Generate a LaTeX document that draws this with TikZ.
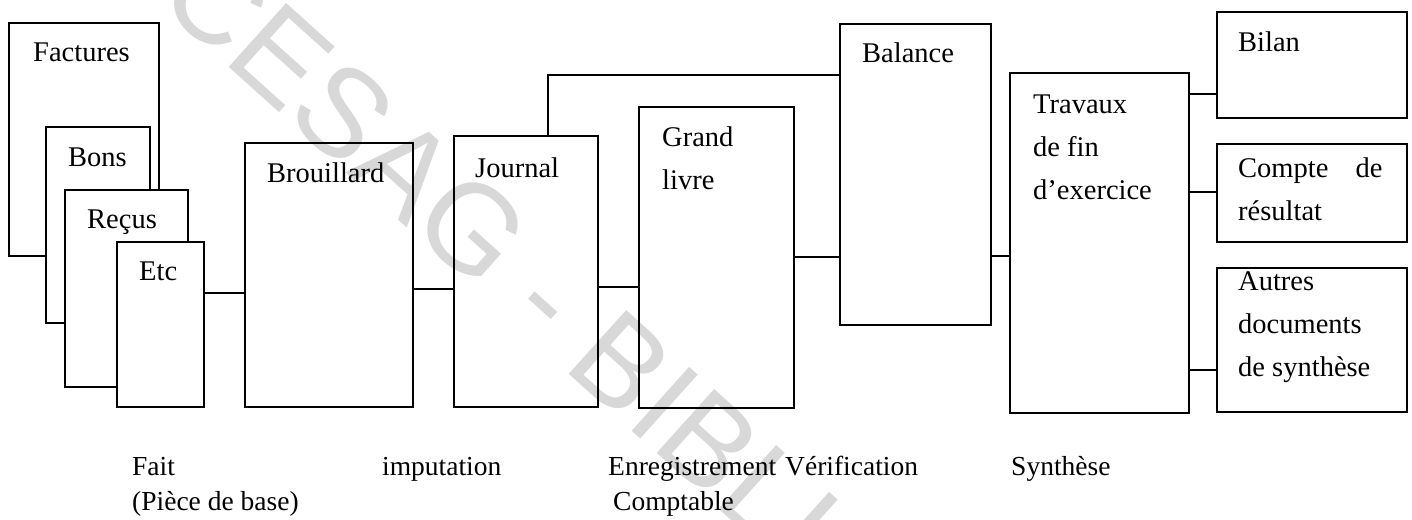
\documentclass[tikz,border=0pt]{standalone}
\usepackage{fontspec}
\setmainfont{Liberation Serif}
\newfontfamily\wmfont{Liberation Sans}
\definecolor{wmgray}{RGB}{216,216,216}
\begin{document}
\begin{tikzpicture}[x=1pt,y=-1pt,
  card/.style={draw=black, line width=1.5pt, anchor=north west, inner sep=0pt, outer sep=0pt},
  paper/.style={card, fill=white},
  lbl/.style={anchor=base west, inner sep=0pt, align=left, font=\fontsize{28.5}{43}\selectfont},
  caption/.style={anchor=base west, inner sep=0pt, align=left, font=\fontsize{27.5}{35}\selectfont},
  wire/.style={draw=black, line width=1.5pt}]
\useasboundingbox (0,0) rectangle (1412,519);

% library stamp behind the chart
\node[rotate=-42, anchor=base west, inner sep=0pt, text=wmgray,
      font=\wmfont\fontsize{125}{125}\selectfont] (stamp) at (154,0) {CESAG - BIBLIOTHEQUE};

% stack of source documents
\node[paper, minimum width=150, minimum height=233] (fac) at (9,23) {};
\node[lbl] (facT) at ([shift={(24,39)}]fac.north west) {Factures};
\node[paper, minimum width=104, minimum height=196] (bons) at (46,127) {};
\node[lbl] (bonsT) at ([shift={(22,39)}]bons.north west) {Bons};
\node[paper, minimum width=123, minimum height=197] (recus) at (65,190) {};
\node[lbl] (recusT) at ([shift={(22,38)}]recus.north west) {Reçus};
\node[paper, minimum width=87, minimum height=165] (etc) at (117,242) {};
\node[lbl] (etcT) at ([shift={(22,38)}]etc.north west) {Etc};

% books and statements (multi-line labels sit on their last baseline)
\node[card, minimum width=168, minimum height=264] (brou) at (245,143) {};
\node[lbl] (brouT) at ([shift={(22,39)}]brou.north west) {Brouillard};
\node[card, minimum width=144, minimum height=271] (jour) at (454,136) {};
\node[lbl] (jourT) at ([shift={(21,41)}]jour.north west) {Journal};
\node[card, minimum width=155, minimum height=301] (gl) at (639,107) {};
\node[lbl] (glT) at ([shift={(23,82)}]gl.north west) {Grand\\livre};
\node[card, minimum width=151, minimum height=301] (bal) at (840,24) {};
\node[lbl] (balT) at ([shift={(22,39)}]bal.north west) {Balance};
\node[card, minimum width=179, minimum height=340] (trav) at (1010,73) {};
\node[lbl] (travT) at ([shift={(23,126)}]trav.north west) {Travaux\\de fin\\d’exercice};
\node[card, minimum width=190, minimum height=106] (bil) at (1217,12) {};
\node[lbl] (bilT) at ([shift={(21,40)}]bil.north west) {Bilan};
\node[card, minimum width=190, minimum height=98] (cr) at (1217,144) {};
\node[lbl] (crT) at ([shift={(21,76)}]cr.north west) {Compte\hspace{0.95em}de\\résultat};
\node[card, minimum width=190, minimum height=144] (autres) at (1217,268) {};
\node[lbl] (autresT) at ([shift={(21,108)}]autres.north west) {Autres\\documents\\de synthèse};

% connector levels
\coordinate (l1) at (0,293);
\coordinate (l2) at (0,289);
\coordinate (l3) at (0,287);
\coordinate (l4) at (0,257);
\coordinate (l5) at (0,256);
\coordinate (top) at (548,75);
\coordinate (l6) at (0,94);
\coordinate (l7) at (0,192);
\coordinate (l8) at (0,370);

\draw[wire] (etc.east |- l1) -- (brou.west |- l1);
\draw[wire] (brou.east |- l2) -- (jour.west |- l2);
\draw[wire] (jour.east |- l3) -- (gl.west |- l3);
\draw[wire] (gl.east |- l4) -- (bal.west |- l4);
\draw[wire] (jour.north -| top) |- (bal.west |- top);
\draw[wire] (bal.east |- l5) -- (trav.west |- l5);
\draw[wire] (trav.east |- l6) -- (bil.west |- l6);
\draw[wire] (trav.east |- l7) -- (cr.west |- l7);
\draw[wire] (trav.east |- l8) -- (autres.west |- l8);

% stage captions
\node[caption] (c1) at (132,510) {Fait\\(Pièce de base)};
\node[caption] (c2) at (382,475) {imputation};
\node[caption] (c3) at (608,510) {Enregistrement\\\hspace{5pt}Comptable};
\node[caption] (c4) at (785,475) {Vérification};
\node[caption] (c5) at (1011,475) {Synthèse};
\end{tikzpicture}
\end{document}
